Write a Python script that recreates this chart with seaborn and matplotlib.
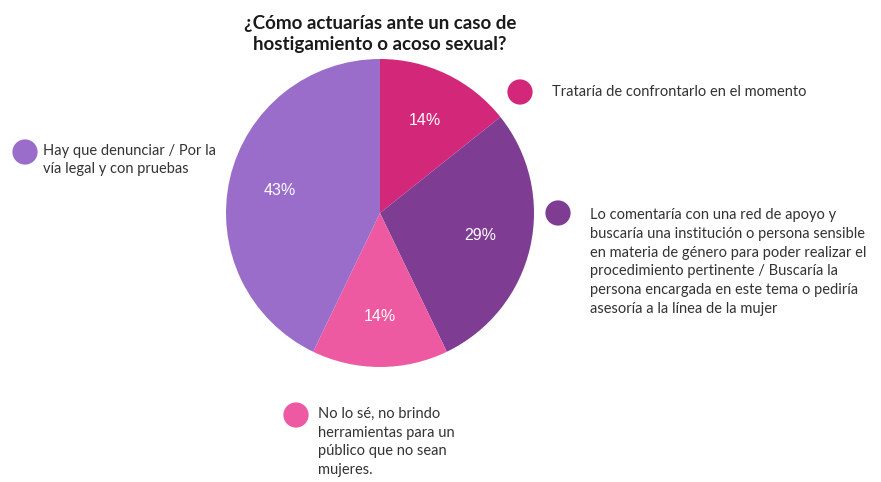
import matplotlib
matplotlib.use("Agg")
import matplotlib.pyplot as plt
import seaborn as sns

# ---- data ----
categories = [
    "Trataría de confrontarlo en el momento",
    "Lo comentaría con una red de apoyo y\nbuscaría una institución o persona sensible\nen materia de género para poder realizar el\nprocedimiento pertinente / Buscaría la\npersona encargada en este tema o pediría\nasesoría a la línea de la mujer",
    "No lo sé, no brindo\nherramientas para un\npúblico que no sean\nmujeres.",
    "Hay que denunciar / Por la\nvía legal y con pruebas",
]
counts = [1, 2, 1, 3]
colors = ["#d3287a", "#7e3c93", "#ee5aa2", "#9b6dcb"]
title = "¿Cómo actuarías ante un caso de\nhostigamiento o acoso sexual?"

sns.set_theme(style="white")
plt.rcParams["font.family"] = ["Lato", "DejaVu Sans"]

W, H = 881, 482
fig = plt.figure(figsize=(W / 100, H / 100), dpi=100)
fig.patch.set_facecolor("white")

# pie axes: center (380, 213) px, radius 154 px
cx, cy, r = 380, 213, 154
ax = fig.add_axes([(cx - r) / W, (H - cy - r) / H, 2 * r / W, 2 * r / H])
wedges, texts, autotexts = ax.pie(
    counts, colors=colors, startangle=90, counterclock=False,
    autopct="%.0f%%", pctdistance=0.67,
    textprops=dict(color="white", fontsize=11.5, family="Liberation Sans"),
    wedgeprops=dict(linewidth=0),
)
ax.set_xlim(-1, 1)
ax.set_ylim(-1, 1)
ax.set_aspect("equal")
ax.axis("off")

# overlay axes in pixel coordinates for title and legend annotations
ov = fig.add_axes([0, 0, 1, 1], facecolor="none")
ov.set_xlim(0, W)
ov.set_ylim(H, 0)
ov.axis("off")

ov.text(380, 34, title, ha="center", va="center", fontsize=13.5,
        fontweight="bold", color="#1a1a1a", linespacing=1.3)

# legend markers and labels: (marker x, marker y, text x, text block center y)
legend_pos = [
    (520, 92, 552, 92),
    (558, 213, 590, 262),
    (296, 415, 318, 442),
    (25, 152, 43, 160),
]
for (mx, my, tx, ty), lab, col in zip(legend_pos, categories, colors):
    ov.scatter([mx], [my], s=330, color=col, edgecolors="none")
    ov.text(tx, ty, lab, ha="left", va="center", fontsize=10.5,
            color="#333333", linespacing=1.45)

fig.savefig("out.png", dpi=100, facecolor="white")
